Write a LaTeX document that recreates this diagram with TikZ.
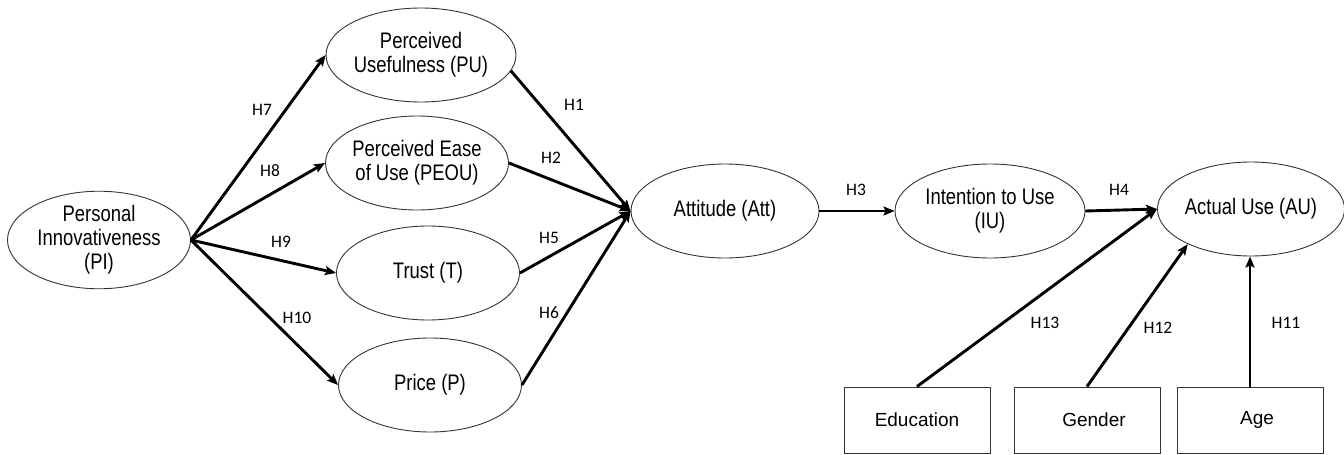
\documentclass[tikz,border=0pt]{standalone}
\usepackage{fontspec}
\setmainfont{Liberation Sans}
\newfontfamily\narrowfont{Liberation Sans}[FakeStretch=0.82]
\newfontfamily\hfont{Carlito}
\usetikzlibrary{arrows.meta,shapes.geometric}
\begin{document}
\begin{tikzpicture}[x=1pt,y=-1pt,
  latent/.style={ellipse,draw=black!80,line width=0.9pt,inner sep=0pt,
    minimum width=183pt,minimum height=94pt,align=center,
    font=\narrowfont\fontsize{22.5}{24}\selectfont},
  obs/.style={rectangle,draw=black!80,line width=0.9pt,minimum width=146pt,
    minimum height=66pt,inner sep=0pt,font=\fontsize{19}{22}\selectfont},
  conn/.style={line width=2.9pt,-{Stealth[length=11pt,width=9pt,inset=2pt]}},
  hyp/.style={font=\hfont\fontsize{17.5}{19}\selectfont,inner sep=0pt}]
\useasboundingbox (0,0) rectangle (1344,455);
\fill[white] (0,0) rectangle (1344,455);
% latent constructs
\node[latent] (pi)   at (99,240)   {Personal\\Innovativeness\\(PI)};
\node[latent] (pu)   at (421,55)   {Perceived\\Usefulness (PU)};
\node[latent] (peou) at (417,163)  {Perceived Ease\\of Use (PEOU)};
\node[latent] (tr)   at (428,273)  {Trust (T)};
\node[latent] (pr)   at (430,385)  {Price (P)};
\node[latent, minimum width=188pt] (att)  at (725,211)  {Attitude (Att)};
\node[latent, minimum width=190pt] (iu)   at (990,211)  {Intention to Use\\(IU)};
\node[latent, minimum width=186pt] (au)   at (1251,209) {Actual Use (AU)};
% observed variables
\node[obs] (edu) at (917,420)  {Education};
\node[obs] (gen) at (1087,420) {\hspace*{14pt}Gender};
\node[obs] (age) at (1250,420) {\hspace*{14pt}Age};
% paths
\draw[conn] (pi.east) -- (pu.west);
\draw[conn] (pi.east) -- (peou.west);
\draw[conn] (pi.east) -- (tr.west);
\draw[conn] (pi.east) -- (pr.west);
\draw[conn] (pu.-10) -- (att.west);
\draw[conn] (peou.east) -- (att.west);
\draw[conn] (tr.east) -- (att.west);
\draw[conn] (pr.east) -- (att.west);
\draw[conn] (att.east) -- (iu.west);
\draw[conn] (iu.east) -- (au.west);
\draw[conn] (edu.north) -- (au.west);
\draw[conn] (gen.north) -- (au.-151);
\draw[conn] (age.north) -- (age.north |- au.south);
% labels
\node[hyp] (h7)  at (262,110) {H7};
\node[hyp] (h8)  at (270,171) {H8};
\node[hyp] (h9)  at (281,242) {H9};
\node[hyp] (h10) at (297,318) {H10};
\node[hyp] (h1)  at (574,105) {H1};
\node[hyp] (h2)  at (551,158) {H2};
\node[hyp] (h5)  at (549,238) {H5};
\node[hyp] (h6)  at (549,313) {H6};
\node[hyp] (h3)  at (856,190) {H3};
\node[hyp] (h4)  at (1119,190) {H4};
\node[hyp] (h13) at (1045,323) {H13};
\node[hyp] (h12) at (1158,328) {H12};
\node[hyp] (h11) at (1286,323) {H11};
\end{tikzpicture}
\end{document}
